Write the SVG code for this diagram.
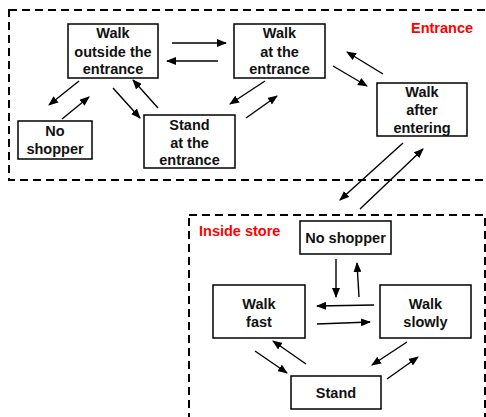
<svg xmlns="http://www.w3.org/2000/svg" width="486" height="417" viewBox="0 0 486 417">
<defs>
<marker id="ah" markerWidth="10" markerHeight="8" refX="9" refY="4" orient="auto" markerUnits="userSpaceOnUse">
<path d="M0,0 L10,4 L0,8 Z" fill="#000"/>
</marker>
<style>
.region{fill:none;stroke:#000;stroke-width:2;stroke-dasharray:8,5}
.node rect{fill:#fff;stroke:#000;stroke-width:1.5}
.node text{font-family:"Liberation Sans",Arial,sans-serif;font-weight:bold;font-size:14.5px;text-anchor:middle;fill:#111}
.lbl{font-family:"Liberation Sans",Arial,sans-serif;font-weight:bold;font-size:14.5px;fill:#f00}
#connectors line{stroke:#000;stroke-width:1.4;marker-end:url(#ah)}
</style>
</defs>
<rect width="486" height="417" fill="#fff"/>
<g id="regions">
<rect class="region" x="9" y="10" width="490" height="170"/>
<rect class="region" x="189" y="215" width="296" height="210"/>
<text class="lbl" x="411" y="33">Entrance</text>
<text class="lbl" x="199" y="236">Inside store</text>
</g>
<g id="n-walk-outside" class="node"><rect x="68" y="24" width="90" height="54"/><text x="113" y="38">Walk</text><text x="113" y="56.5">outside the</text><text x="113" y="74">entrance</text></g>
<g id="n-no-shopper-out" class="node"><rect x="18" y="121" width="74" height="38"/><text x="55" y="136">No</text><text x="55" y="154">shopper</text></g>
<g id="n-stand-entrance" class="node"><rect x="144" y="115" width="91" height="53"/><text x="189.5" y="130">Stand</text><text x="189.5" y="147.5">at the</text><text x="189.5" y="165">entrance</text></g>
<g id="n-walk-at" class="node"><rect x="234" y="24" width="91" height="54"/><text x="279.5" y="38">Walk</text><text x="279.5" y="56.5">at the</text><text x="279.5" y="74">entrance</text></g>
<g id="n-walk-after" class="node"><rect x="377" y="83" width="90" height="53"/><text x="422" y="97">Walk</text><text x="422" y="115">after</text><text x="422" y="133">entering</text></g>
<g id="n-no-shopper-in" class="node"><rect x="300" y="221" width="91" height="33"/><text x="345.5" y="242.5">No shopper</text></g>
<g id="n-walk-fast" class="node"><rect x="213" y="285" width="92" height="53"/><text x="259" y="309">Walk</text><text x="259" y="326.5">fast</text></g>
<g id="n-walk-slowly" class="node"><rect x="380" y="285" width="91" height="53"/><text x="425.5" y="309">Walk</text><text x="425.5" y="326.5">slowly</text></g>
<g id="n-stand" class="node"><rect x="291" y="376" width="90" height="33"/><text x="336" y="398">Stand</text></g>
<g id="connectors">
<line x1="172" y1="43" x2="226" y2="43"/>
<line x1="218" y1="61" x2="167" y2="61"/>
<line x1="79" y1="81" x2="49" y2="105"/>
<line x1="62" y1="119" x2="89" y2="97"/>
<line x1="113" y1="88" x2="140" y2="118"/>
<line x1="158" y1="108" x2="133" y2="80"/>
<line x1="265" y1="81" x2="230" y2="104"/>
<line x1="246" y1="118" x2="277" y2="96"/>
<line x1="333" y1="66" x2="367" y2="86"/>
<line x1="383" y1="74" x2="347" y2="52"/>
<line x1="403" y1="143" x2="340" y2="200"/>
<line x1="360" y1="209" x2="423" y2="149"/>
<line x1="336" y1="259" x2="336" y2="297"/>
<line x1="359" y1="297" x2="357" y2="263"/>
<line x1="374" y1="305" x2="317" y2="306"/>
<line x1="317" y1="324" x2="370" y2="322"/>
<line x1="255" y1="351" x2="287" y2="373"/>
<line x1="306" y1="364" x2="273" y2="341"/>
<line x1="407" y1="342" x2="372" y2="365"/>
<line x1="387" y1="379" x2="418" y2="357"/>
</g>
</svg>
